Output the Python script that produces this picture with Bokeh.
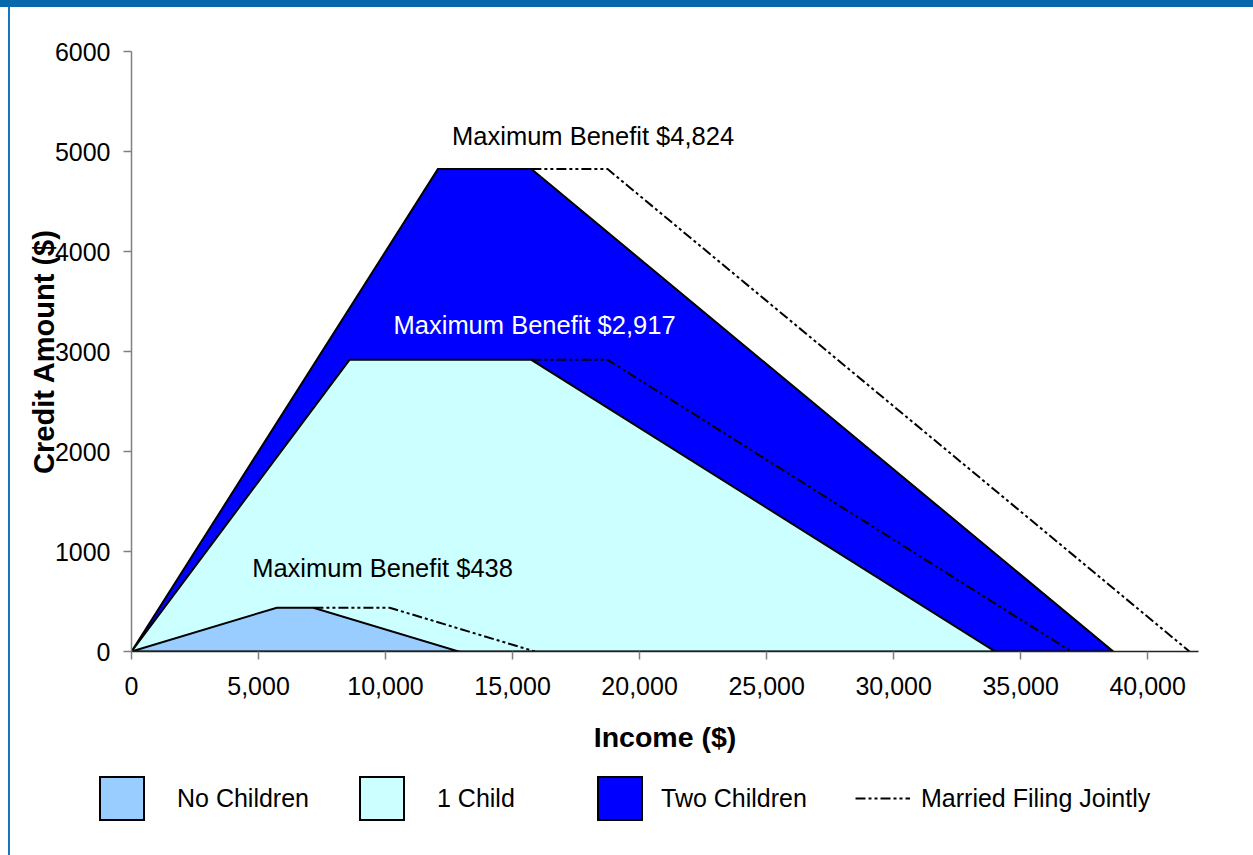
from bokeh.plotting import figure
from bokeh.models import (Range1d, FixedTicker, NumeralTickFormatter, Label, Legend,
                          LegendItem, ColumnDataSource)
from bokeh.embed import file_html
from bokeh.resources import INLINE

# ---------------- data ----------------
income_ticks = [0, 5000, 10000, 15000, 20000, 25000, 30000, 35000, 40000]
credit_ticks = [0, 1000, 2000, 3000, 4000, 5000, 6000]

no_children_income = [0, 5720, 7160, 12880]
no_children_credit = [0, 438, 438, 0]
one_child_income = [0, 8580, 15740, 33995]
one_child_credit = [0, 2917, 2917, 0]
two_children_income = [0, 12060, 15740, 38646]
two_children_credit = [0, 4824, 4824, 0]

mfj_no_children_income = [7160, 10160, 15880]
mfj_no_children_credit = [438, 438, 0]
mfj_one_child_income = [15740, 18740, 36995]
mfj_one_child_credit = [2917, 2917, 0]
mfj_two_children_income = [15740, 18740, 41646]
mfj_two_children_credit = [4824, 4824, 0]

series_names = ["No Children", "1 Child", "Two Children", "Married Filing Jointly"]
series_colors = ["#99CCFF", "#CCFFFF", "#0000FF"]
max_benefits = [438, 2917, 4824]

FONT = "Liberation Sans"
LW = 2
DASH = "10 3 3 3 3 3"


def draw_series(fig, **kw):
    two = fig.patch(two_children_income, two_children_credit, fill_color=series_colors[2],
                    line_color="black", line_width=LW, line_join="miter", **kw)
    one = fig.patch(one_child_income, one_child_credit, fill_color=series_colors[1],
                    line_color="black", line_width=LW, line_join="miter", **kw)
    none = fig.patch(no_children_income, no_children_credit, fill_color=series_colors[0],
                     line_color="black", line_width=LW, line_join="miter", **kw)
    src = ColumnDataSource(dict(
        xs=[mfj_no_children_income, mfj_one_child_income, mfj_two_children_income],
        ys=[mfj_no_children_credit, mfj_one_child_credit, mfj_two_children_credit]))
    mfj = fig.multi_line("xs", "ys", source=src, line_color="black", line_width=LW,
                         line_dash=DASH, **kw)
    return none, one, two, mfj


# ---------------- main chart ----------------
p = figure(width=1253, height=770,
           x_range=Range1d(0, 42000), y_range=Range1d(0, 6000),
           output_backend="svg", toolbar_location=None,
           min_border_left=131, min_border_right=55,
           min_border_top=51, min_border_bottom=119,
           x_axis_label="Income ($)", y_axis_label="Credit Amount ($)")
# blue frame decoration of the original slide (top band + thin left rule)
p.styles = {"background": "linear-gradient(#0868AC,#0868AC) 0 0 / 100% 7px no-repeat, "
                          "linear-gradient(#1B75BB,#1B75BB) 8px 0 / 2px 100% no-repeat, white"}
p.background_fill_color = "white"
p.border_fill_color = None
p.outline_line_color = None
p.xgrid.visible = False
p.ygrid.visible = False

draw_series(p)

# annotations
ann_pos = [(9882, 840, "black"), (15866, 3270, "white"), (18169, 5160, "black")]
for v, (ax, ay, col) in zip(max_benefits, ann_pos):
    p.add_layout(Label(x=ax, y=ay, text=f"Maximum Benefit ${v:,}", text_align="center",
                       text_baseline="middle", text_font=FONT, text_font_size="25.5px",
                       text_color=col))

# axes
xa = p.xaxis[0]
ya = p.yaxis[0]
xa.ticker = FixedTicker(ticks=income_ticks)
ya.ticker = FixedTicker(ticks=credit_ticks)
xa.formatter = NumeralTickFormatter(format="0,0")
for ax in (xa, ya):
    ax.minor_tick_line_color = None
    ax.major_tick_in = 0
    ax.major_tick_out = 8
    ax.major_tick_line_color = "#808080"
    ax.major_tick_line_width = 1.5
    ax.axis_line_width = 1.5
    ax.major_label_text_font = FONT
    ax.major_label_text_font_size = "25px"
    ax.major_label_text_color = "black"
    ax.axis_label_text_font = FONT
    ax.axis_label_text_font_style = "bold"
    ax.axis_label_text_color = "black"
xa.axis_line_color = "#222222"
ya.axis_line_color = "#808080"
xa.major_label_standoff = 17
ya.major_label_standoff = 13
xa.axis_label_text_font_size = "28.5px"
ya.axis_label_text_font_size = "29px"
xa.axis_label_standoff = 23
ya.axis_label_standoff = -8

# ---------------- legend strip (second root, stacked below) ----------------
pl = figure(width=1253, height=85, x_range=Range1d(0, 42000), y_range=Range1d(0, 6000),
            output_backend="svg", toolbar_location=None, min_border=0,
            x_axis_location=None, y_axis_location=None)
pl.styles = {"background": "linear-gradient(#1B75BB,#1B75BB) 8px 0 / 2px 100% no-repeat, white"}
pl.background_fill_color = None
pl.border_fill_color = None
pl.outline_line_color = None
pl.grid.visible = False
legend_renderers = draw_series(pl, visible=False)

# one legend entry per slot so each sits where the original places it
slot_x = [94, 354, 592, 855]
slot_standoff = [28, 28, 14, 11]
for name, rend, sx, so in zip(series_names, legend_renderers, slot_x, slot_standoff):
    pl.add_layout(Legend(
        items=[LegendItem(label=name, renderers=[rend])],
        orientation="horizontal", location=(sx, 30),
        glyph_width=55, glyph_height=54, label_standoff=so, spacing=0,
        padding=0, margin=0, background_fill_alpha=0, border_line_alpha=0,
        label_text_font=FONT, label_text_font_size="25px", label_text_color="black"))

open("out.html", "w").write(file_html([p, pl], INLINE))
